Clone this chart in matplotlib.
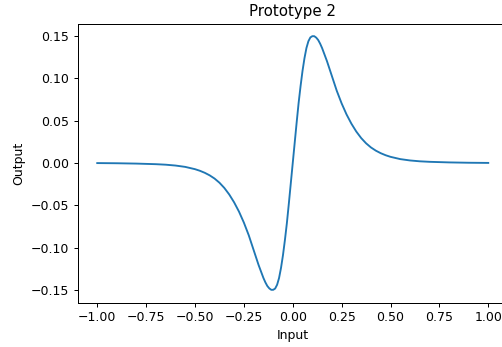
import matplotlib
matplotlib.use("Agg")
import matplotlib.pyplot as plt

# values
INPUT = [
    -1.00, -0.90, -0.80, -0.70, -0.65, -0.60, -0.55, -0.50, -0.475, -0.45,
    -0.425, -0.40, -0.375, -0.35, -0.325, -0.30, -0.275, -0.25, -0.225, -0.20,
    -0.175, -0.15, -0.14, -0.13, -0.12, -0.11, -0.10, -0.09, -0.08, -0.07,
    -0.06, -0.05, -0.04, -0.03, -0.02, -0.01, 0.00,
    0.01, 0.02, 0.03, 0.04, 0.05, 0.06, 0.07, 0.08, 0.09, 0.10,
    0.11, 0.12, 0.13, 0.14, 0.15, 0.175, 0.20, 0.225, 0.25, 0.275,
    0.30, 0.325, 0.35, 0.375, 0.40, 0.425, 0.45, 0.475, 0.50, 0.55,
    0.60, 0.65, 0.70, 0.80, 0.90, 1.00,
]
OUTPUT = [
    -0.0001, -0.0003, -0.0007, -0.0014, -0.0020, -0.0030, -0.0046, -0.0073, -0.0092, -0.0116,
    -0.0146, -0.0184, -0.0233, -0.0295, -0.0372, -0.0465, -0.0575, -0.0705, -0.0855, -0.1030,
    -0.1205, -0.1360, -0.1412, -0.1455, -0.1483, -0.1500, -0.1500, -0.1485, -0.1440, -0.1360,
    -0.1240, -0.1090, -0.0910, -0.0710, -0.0480, -0.0240, 0.0000,
    0.0240, 0.0480, 0.0710, 0.0910, 0.1090, 0.1240, 0.1360, 0.1440, 0.1485, 0.1500,
    0.1500, 0.1483, 0.1455, 0.1412, 0.1360, 0.1205, 0.1030, 0.0855, 0.0705, 0.0575,
    0.0465, 0.0372, 0.0295, 0.0233, 0.0184, 0.0146, 0.0116, 0.0092, 0.0073, 0.0046,
    0.0030, 0.0020, 0.0014, 0.0007, 0.0003, 0.0001,
]

fig = plt.figure(figsize=(502 / 90, 347 / 90), dpi=90)
ax = fig.add_axes([77.7 / 502, 44.5 / 347, 430.1 / 502, 279.0 / 347])

ax.plot(INPUT, OUTPUT, color="#1f77b4")
ax.set_title("Prototype 2")
ax.set_xlabel("Input")
ax.set_ylabel("Output")

fig.savefig("out.png", dpi=90)
